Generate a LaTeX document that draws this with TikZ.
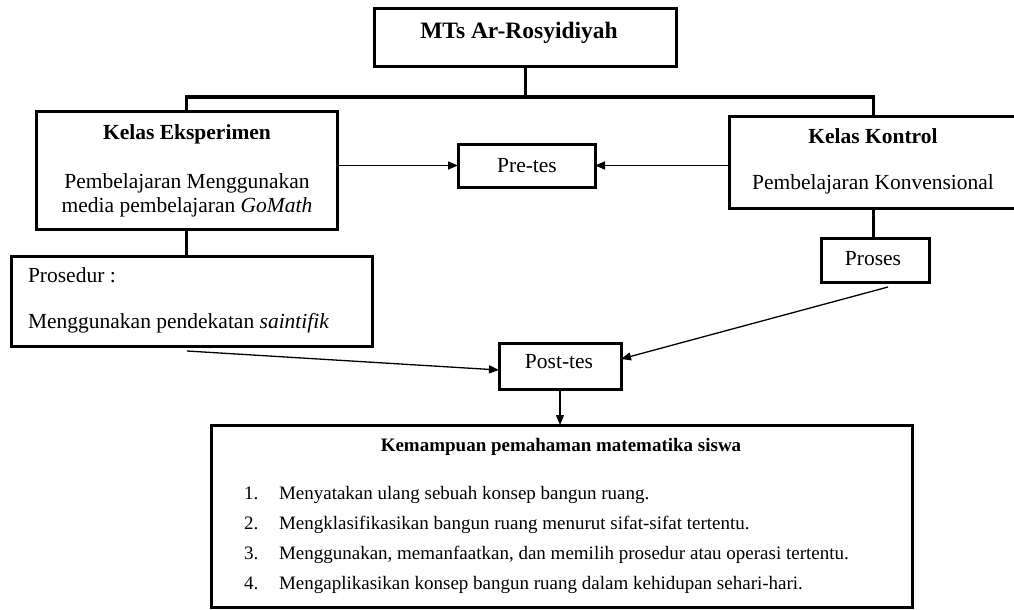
\documentclass[tikz,border=0pt]{standalone}
\usepackage{fontspec}
\setmainfont{Liberation Serif}
\usetikzlibrary{arrows.meta,calc}
\tikzset{
  box/.style={draw, line width=3pt, rectangle, inner sep=0pt, outer sep=0pt},
  conn/.style={line width=3pt},
  barline/.style={line width=4.5pt},
  arr/.style={line width=1.3pt, -{Triangle[length=10pt,width=8pt]}},
  txt/.style={inner sep=0pt, outer sep=0pt, font=\fontsize{21.5}{24}\selectfont},
  btxt/.style={txt, font=\fontsize{21.5}{24}\selectfont\bfseries},
  stxt/.style={inner sep=0pt, outer sep=0pt, font=\fontsize{19}{22}\selectfont},
}
\begin{document}
\begin{tikzpicture}[x=1pt, y=-1pt]
\useasboundingbox (0,0) rectangle (1014,610);
\fill[white] (0,0) rectangle (1014,610);
\clip (0,0) rectangle (1014,610);

% boxes
\node[box, minimum width=302pt, minimum height=58pt] (top) at (525,38) {};
\node[box, minimum width=301pt, minimum height=118pt] (exp) at (186.5,170) {};
\node[box, minimum width=289pt, minimum height=92pt] (kon) at (873.5,162) {};
\node[box, minimum width=137pt, minimum height=43pt] (pre) at (526.5,165.5) {};
\node[box, minimum width=361pt, minimum height=90pt] (pros) at (191.5,301) {};
\node[box, minimum width=108pt, minimum height=44pt] (proses) at (875,260) {};
\node[box, minimum width=122pt, minimum height=46pt] (post) at (560,366) {};
\node[box, minimum width=701pt, minimum height=182pt] (kem) at (561.5,516) {};

% texts
\node[btxt, anchor=base, font=\fontsize{23.5}{26}\selectfont\bfseries] (ttop) at (519,39) {MTs Ar-Rosyidiyah};
\node[btxt, anchor=base] (texp1) at (187,139) {Kelas Eksperimen};
\node[txt, anchor=base] (texp2) at (187,188) {Pembelajaran Menggunakan};
\node[txt, anchor=base] (texp3) at (187,212) {media pembelajaran \textit{GoMath}};
\node[btxt, anchor=base] (tkon1) at (873,143) {Kelas Kontrol};
\node[txt, anchor=base] (tkon2) at (873,189) {Pembelajaran Konvensional};
\node[txt, anchor=base] (tpre) at (527,172) {Pre-tes};
\node[txt, anchor=base west] (tpros1) at (28,282) {Prosedur :};
\node[txt, anchor=base west] (tpros2) at (28,328) {Menggunakan pendekatan \textit{saintifik}};
\node[txt, anchor=base] (tproses) at (873,265) {Proses};
\node[txt, anchor=base] (tpost) at (559,368) {Post-tes};
\node[stxt, anchor=base, font=\fontsize{19}{22}\selectfont\bfseries] (tkem) at (561,451) {Kemampuan pemahaman matematika siswa};
\node[stxt, anchor=base west] (n1) at (244,499) {1.};
\node[stxt, anchor=base west] (i1) at (279,499) {Menyatakan ulang sebuah konsep bangun ruang.};
\node[stxt, anchor=base west] (n2) at (244,529) {2.};
\node[stxt, anchor=base west] (i2) at (279,529) {Mengklasifikasikan bangun ruang menurut sifat-sifat tertentu.};
\node[stxt, anchor=base west] (n3) at (244,559) {3.};
\node[stxt, anchor=base west] (i3) at (279,559) {Menggunakan, memanfaatkan, dan memilih prosedur atau operasi tertentu.};
\node[stxt, anchor=base west] (n4) at (244,589) {4.};
\node[stxt, anchor=base west] (i4) at (279,589) {Mengaplikasikan konsep bangun ruang dalam kehidupan sehari-hari.};

% tree connectors
\coordinate (barL) at (186.5,97);
\coordinate (barR) at (873.5,97);
\draw[barline] ($(barL)+(-1.5,0)$) -- ($(barR)+(1.5,0)$);
\draw[conn] (top.south) -- (top.south |- barL);
\draw[conn] (barL) -- (exp.north);
\draw[conn] (barR) -- (kon.north);
\draw[conn] (exp.south) -- (exp.south |- pros.north);
\draw[conn] (kon.south) -- (kon.south |- proses.north);

% arrows
\draw[arr] (exp.east |- pre.west) -- (pre.west);
\draw[arr] (kon.west |- pre.east) -- (pre.east);
\coordinate (s1) at (187,351);
\coordinate (s2) at (888,287);
\draw[arr] (s1) -- ($(post.west)+(0,4)$);
\draw[arr] (s2) -- ($(post.east)+(0,-7)$);
\draw[arr] (post.south) -- (post.south |- kem.north);
\end{tikzpicture}
\end{document}
